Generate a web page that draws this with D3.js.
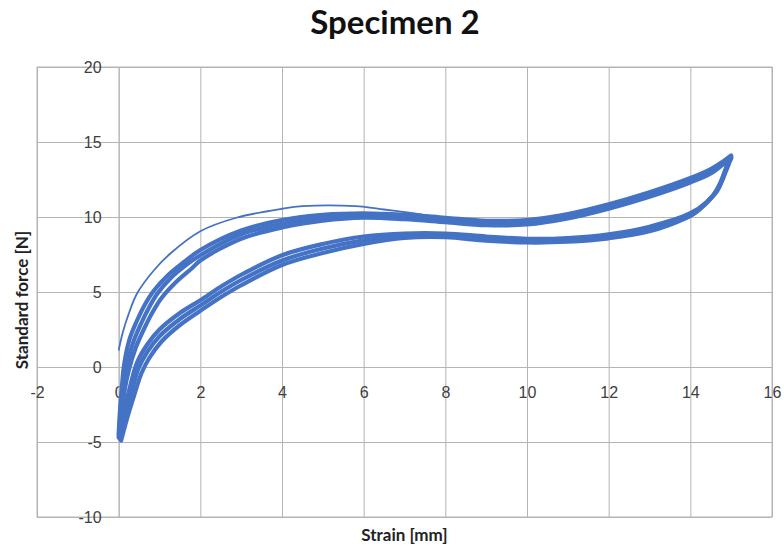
<!DOCTYPE html>
<html>
<head>
<meta charset="utf-8">
<script src="https://cdn.jsdelivr.net/npm/d3@7"></script>
<style>
  html, body { margin: 0; padding: 0; background: #fff; }
  svg { display: block; font-family: Lato, "Open Sans", sans-serif; }
</style>
</head>
<body>
<svg id="chart" width="784" height="549"></svg>
<script>
// axis ticks
const xTicks = [-2, 0, 2, 4, 6, 8, 10, 12, 14, 16];
const yTicks = [-10, -5, 0, 5, 10, 15, 20];

// first loading (thin line) [strain mm, force N]
const firstLoad = [[0,1.1],[0.1,2.3],[0.24,3.5],[0.45,4.9],[0.88,6.5],[1.28,7.6],[2,9.05],[2.88,9.95],[4,10.55],[4.5,10.72],[5.8,10.72],[6.5,10.5],[7.2,10.25],[8,9.95],[9,9.75]];

// loading cycles (upper band)
const load1 = [[0,-4.5],[0.03,-3],[0.08,-1.3],[0.13,0.1],[0.26,1.8],[0.45,3.1],[0.65,4.2],[0.85,5.05],[1.2,6.1],[1.6,7.0],[2,7.8],[3,9.1],[4,9.8],[5,10.15],[6,10.25],[7,10.15],[8,9.95],[9,9.75],[10,9.8],[11,10.2],[12,10.85],[13,11.65],[14,12.6],[14.5,13.2],[14.8,13.7],[15,14.1]];
const load2 = [[0,-4.7],[0.05,-3],[0.11,-1.4],[0.19,0],[0.35,1.6],[0.55,2.9],[0.75,4.0],[0.95,4.9],[1.3,6.0],[1.6,6.7],[2,7.45],[3,8.85],[4,9.55],[5,9.95],[6,10.1],[7,10.0],[8,9.8],[9,9.6],[10,9.65],[11,10.05],[12,10.7],[13,11.5],[14,12.45],[14.5,13.05],[14.8,13.6],[15,14.0]];
const load3 = [[0.03,-4.8],[0.08,-3],[0.15,-1.5],[0.25,-0.2],[0.42,1.3],[0.64,2.65],[0.85,3.75],[1.05,4.6],[1.4,5.65],[1.8,6.6],[2,7.1],[3,8.55],[4,9.3],[5,9.75],[6,9.95],[7,9.85],[8,9.65],[9,9.45],[10,9.5],[11,9.9],[12,10.55],[13,11.35],[14,12.3],[14.5,12.9],[14.8,13.5],[15,13.9]];

// unloading cycles (lower band)
const unload1 = [[15,14.0],[14.95,13.6],[14.85,12.9],[14.7,12.0],[14.4,11.0],[14,10.25],[13,9.35],[12,8.85],[11,8.6],[10,8.55],[9,8.7],[8,8.9],[7,8.9],[6,8.7],[5,8.2],[4,7.45],[3,6.15],[2.5,5.35],[2,4.45],[1.5,3.6],[1.0,2.5],[0.7,1.5],[0.45,0.3],[0.27,-1.4],[0.12,-3.1],[0.02,-4.6]];
const unload2 = [[15,13.9],[14.9,13.4],[14.8,12.6],[14.66,11.75],[14.3,10.7],[14,10.07],[13,9.2],[12,8.72],[11,8.48],[10,8.42],[9,8.56],[8,8.78],[7,8.75],[6,8.44],[5,7.9],[4,7.1],[3,5.8],[2.5,5.0],[2,4.1],[1.5,3.2],[1.0,2.05],[0.7,1.0],[0.5,0],[0.33,-1.5],[0.17,-3.2],[0.04,-4.8]];
const unload3 = [[14.95,13.8],[14.85,13.1],[14.72,12.2],[14.55,11.4],[14.2,10.45],[13.9,9.95],[13,9.05],[12,8.58],[11,8.35],[10,8.3],[9,8.42],[8,8.65],[7,8.6],[6,8.2],[5,7.6],[4,6.8],[3,5.45],[2.5,4.65],[2,3.75],[1.5,2.8],[1.05,1.7],[0.75,0.6],[0.56,-0.4],[0.4,-1.7],[0.22,-3.3],[0.06,-4.9]];

const svg = d3.select('#chart');
const margin = { left: 37, right: 12, top: 67, bottom: 32 };
const W = 784, H = 549;
const w = W - margin.left - margin.right;
const h = H - margin.top - margin.bottom;
const gridColor = '#b4b4b4';
const lineColor = '#4472c4';
const textColor = '#404040';

const x = d3.scaleLinear().domain([-2, 16]).range([0, w]);
const y = d3.scaleLinear().domain([-10, 20]).range([h, 0]);

const g = svg.append('g').attr('transform', `translate(${margin.left},${margin.top})`);

// gridlines
g.append('g')
  .attr('transform', `translate(0,${h})`)
  .call(d3.axisBottom(x).tickValues(xTicks).tickSize(-h).tickFormat(''))
  .call(s => s.select('.domain').remove())
  .selectAll('line').attr('stroke', gridColor);

g.append('g')
  .call(d3.axisLeft(y).tickValues(yTicks).tickSize(-w).tickFormat(''))
  .call(s => s.select('.domain').remove())
  .selectAll('line').attr('stroke', gridColor);

g.append('rect')
  .attr('width', w).attr('height', h)
  .attr('fill', 'none').attr('stroke', gridColor);

// axes crossing at zero, Excel style
const xAxis = g.append('g')
  .attr('transform', `translate(0,${y(0)})`)
  .call(d3.axisBottom(x).tickValues(xTicks).tickSize(0).tickPadding(20).tickFormat(d => String(d)));
xAxis.select('.domain').attr('stroke', gridColor);
xAxis.selectAll('text').attr('fill', textColor).style('font-size', '16px');

const yAxis = g.append('g')
  .attr('transform', `translate(${x(0)},0)`)
  .call(d3.axisLeft(y).tickValues(yTicks).tickSize(0).tickPadding(17).tickFormat(d => String(d)));
yAxis.select('.domain').attr('stroke', gridColor);
yAxis.selectAll('text').attr('fill', textColor).style('font-size', '16px');

// curves
const line = d3.line()
  .x(d => x(d[0]))
  .y(d => y(d[1]))
  .curve(d3.curveCatmullRom.alpha(0.5));

const cycles = [load1, load2, load3, unload1, unload2, unload3];
g.selectAll('path.cycle')
  .data(cycles)
  .join('path')
  .attr('class', 'cycle')
  .attr('d', line)
  .attr('fill', 'none')
  .attr('stroke', lineColor)
  .attr('stroke-width', 4.2)
  .attr('stroke-linejoin', 'round')
  .attr('stroke-linecap', 'round');

g.append('path')
  .datum(firstLoad)
  .attr('d', line)
  .attr('fill', 'none')
  .attr('stroke', lineColor)
  .attr('stroke-width', 1.8);

// titles
svg.append('text')
  .attr('x', 395).attr('y', 34)
  .attr('text-anchor', 'middle')
  .attr('font-weight', 'bold')
  .attr('font-size', 33)
  .attr('fill', '#111')
  .text('Specimen 2');

svg.append('text')
  .attr('x', margin.left + w / 2).attr('y', 541)
  .attr('text-anchor', 'middle')
  .attr('font-weight', 'bold')
  .attr('font-size', 17)
  .attr('fill', '#222')
  .text('Strain [mm]');

svg.append('text')
  .attr('transform', `translate(28,300) rotate(-90)`)
  .attr('text-anchor', 'middle')
  .attr('font-weight', 'bold')
  .attr('font-size', 17)
  .attr('fill', '#222')
  .text('Standard force [N]');
</script>
</body>
</html>
